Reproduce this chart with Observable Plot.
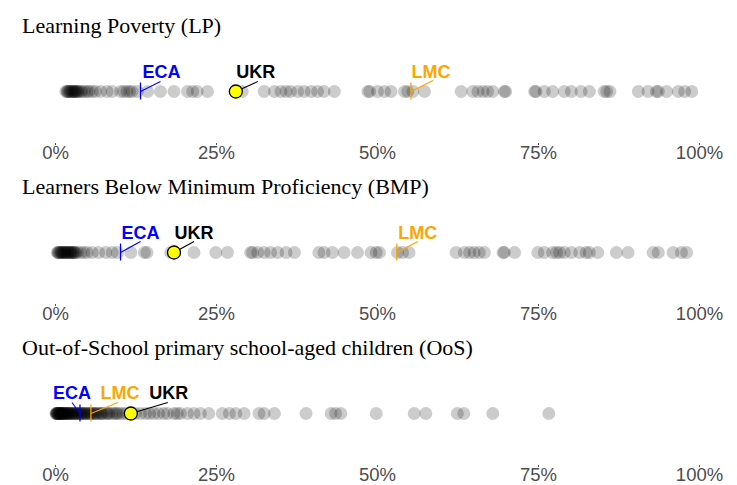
<!DOCTYPE html>
<html>
<head>
<meta charset="utf-8">
<script src="https://cdn.jsdelivr.net/npm/d3@7"></script>
<script src="https://cdn.jsdelivr.net/npm/@observablehq/plot@0.6"></script>
<style>
  body { margin: 0; background: white; width: 737px; }
  .title { font-family: "Liberation Serif", "Times New Roman", serif; font-size: 22px; color: #000;
           height: 36px; box-sizing: border-box; padding-left: 22px; padding-top: 14px; line-height: 24px; white-space: nowrap; }
  svg { display: block; }
</style>
</head>
<body>
<div id="chart"></div>
<script>
// ---- data ----
const panelTitles = ["Learning Poverty (LP)", "Learners Below Minimum Proficiency (BMP)", "Out-of-School primary school-aged children (OoS)"];
const tickValues = [0, 25, 50, 75, 100];
const refLabels = ["ECA", "LMC", "UKR"];

const lpValues = [1.6, 1.8, 1.9, 2.0, 2.2, 2.3, 2.5, 2.6, 2.8, 2.9, 3.0, 3.1, 3.3, 3.4, 3.6, 3.9, 4.1, 4.5, 4.9, 5.2, 5.7, 6.2, 7.0, 8.0, 8.8, 10.1, 10.6, 11.1, 11.5, 11.9, 12.7, 14.3, 16.3, 18.4, 20.5, 21.3, 22.0, 23.6, 28.0, 29.0, 32.4, 34.0, 35.0, 35.8, 36.5, 37.6, 38.6, 39.7, 40.7, 41.7, 43.3, 48.5, 48.8, 50.0, 51.1, 52.1, 54.2, 54.7, 55.5, 57.3, 63.0, 64.8, 65.6, 66.4, 67.1, 67.9, 69.7, 69.9, 74.4, 74.6, 75.9, 77.2, 79.0, 80.1, 81.6, 82.9, 85.2, 85.6, 86.1, 90.5, 92.0, 93.3, 93.6, 94.9, 96.7, 97.7, 98.8];
const bmpValues = [0.3, 0.4, 0.5, 0.6, 0.8, 0.9, 1.0, 1.1, 1.3, 1.4, 1.5, 1.6, 1.8, 1.9, 2.0, 2.2, 2.3, 2.4, 2.5, 2.7, 2.8, 3.0, 3.1, 3.4, 3.9, 4.4, 4.9, 5.7, 6.7, 7.8, 8.8, 9.6, 11.7, 13.8, 14.2, 17.9, 18.4, 21.5, 24.9, 26.7, 30.3, 30.6, 31.4, 32.4, 33.4, 34.5, 35.8, 37.1, 40.9, 41.7, 43.0, 44.8, 46.9, 49.0, 49.8, 50.3, 53.1, 53.9, 54.9, 62.2, 63.5, 64.3, 65.0, 65.8, 66.6, 69.5, 69.7, 71.3, 74.9, 75.9, 77.2, 77.8, 78.3, 79.0, 80.1, 81.4, 82.4, 82.9, 84.2, 87.1, 88.9, 92.8, 93.6, 95.9, 97.2, 98.0];
const oosValues = [0.1, 0.1, 0.2, 0.2, 0.3, 0.3, 0.4, 0.5, 0.5, 0.6, 0.7, 0.7, 0.8, 0.9, 0.9, 1.0, 1.1, 1.2, 1.2, 1.3, 1.4, 1.5, 1.6, 1.7, 1.8, 1.9, 2.0, 2.1, 2.2, 2.3, 2.5, 2.6, 2.7, 2.8, 3.0, 3.1, 3.3, 3.4, 3.5, 3.7, 3.9, 4.0, 4.1, 4.3, 4.5, 4.6, 4.8, 5.0, 5.2, 5.4, 5.5, 5.8, 6.0, 6.2, 6.3, 6.6, 6.9, 7.1, 7.2, 7.5, 7.9, 8.1, 8.3, 8.7, 9.1, 9.4, 9.6, 10.0, 10.5, 11.0, 11.7, 12.4, 13.2, 14.0, 14.6, 15.3, 16.0, 16.8, 17.4, 18.4, 18.9, 19.4, 20.5, 21.5, 22.5, 23.8, 25.9, 27.0, 28.0, 29.3, 31.6, 32.4, 34.0, 38.9, 42.8, 43.5, 44.3, 49.8, 55.7, 57.5, 62.4, 63.4, 67.9, 76.6];

// reference values in order of refLabels: ECA, LMC, UKR
const lpRefs = [13.2, 55.2, 28.0];
const bmpRefs = [10.1, 53.0, 18.4];
const oosRefs = [3.8, 5.5, 11.7];

// ---- layout / style (not data) ----
const W = 737, H = 123, ML = 55, MR = 38, YR = 110;
const pxPerX = (W - ML - MR) / 100;
const px = p => p / pxPerX;   // pixels -> x data units
const py = p => p / YR;       // pixels -> y data units
const refColors = {ECA: "#0000FF", LMC: "#FFA500", UKR: "#000000"};

// label placement per panel: [text dx, text dy, link end dx, link end dy]
const placements = [
  {ECA: [21, -19, 20, -10], LMC: [20, -19, 22, -11], UKR: [20, -19, 22, -10]},
  {ECA: [20, -19, 20, -11], LMC: [21, -19, 21, -11], UKR: [20, -19, 20, -11]},
  {ECA: [-8, -20, -8, -11], LMC: [29, -20, 27, -11], UKR: [38, -20, 37, -11]}
];

const panels = [
  {title: panelTitles[0], values: lpValues, refs: lpRefs},
  {title: panelTitles[1], values: bmpValues, refs: bmpRefs},
  {title: panelTitles[2], values: oosValues, refs: oosRefs}
];

const root = document.getElementById("chart");
panels.forEach((p, i) => {
  const t = document.createElement("div");
  t.className = "title";
  t.textContent = p.title;
  root.appendChild(t);

  const marks = [
    Plot.axisX({ticks: tickValues, tickFormat: d => d + "%", tickSize: 2, tickPadding: 0,
                fontSize: 18.5, color: "#4d4d4d", stroke: "#555", label: null}),
    Plot.dot(p.values, {x: d => d, y: 0.5, r: 6.5, fill: "black", fillOpacity: 0.2, stroke: "none"})
  ];
  refLabels.forEach((lab, k) => {
    const v = p.refs[k];
    const [tdx, tdy, ldx, ldy] = placements[i][lab];
    const col = refColors[lab];
    if (lab !== "UKR") {
      marks.push(Plot.ruleX([v], {x: d => d, y1: 0.5 - py(8.5), y2: 0.5 + py(8.5), stroke: col, strokeWidth: 1.3}));
    }
    marks.push(Plot.link([v], {x1: d => d, y1: 0.5, x2: d => d + px(ldx), y2: 0.5 - py(ldy), stroke: col, strokeWidth: 1.1}));
  });
  // UKR yellow point on top
  marks.push(Plot.dot([p.refs[2]], {x: d => d, y: 0.5, r: 6.5, fill: "#FFFF00", stroke: "black", strokeWidth: 1.3}));
  refLabels.forEach((lab, k) => {
    const v = p.refs[k];
    const [tdx, tdy] = placements[i][lab];
    marks.push(Plot.text([v], {x: d => d, y: 0.5, dx: tdx, dy: tdy, text: () => lab,
      fill: refColors[lab], fontWeight: "bold", fontSize: 18, fontFamily: "Liberation Sans, Arial, sans-serif"}));
  });

  const svg = Plot.plot({
    width: W, height: H,
    marginLeft: ML, marginRight: MR, marginTop: 0, marginBottom: 16,
    x: {domain: [0, 100]},
    y: {domain: [0, 1], range: [YR, 0], axis: null},
    style: {fontFamily: "Liberation Sans, Arial, sans-serif", background: "white", overflow: "visible"},
    marks
  });
  if (i < panels.length - 1) svg.style.marginBottom = "2px";
  root.appendChild(svg);
});
</script>
</body>
</html>
